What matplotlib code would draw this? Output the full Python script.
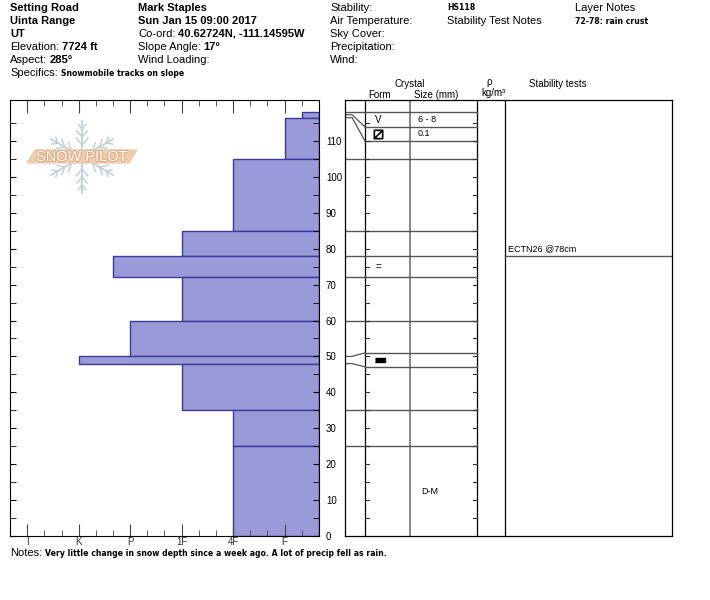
import matplotlib
matplotlib.use('Agg')
import matplotlib.pyplot as plt
import matplotlib.patheffects as pe
from matplotlib.path import Path
import numpy as np

W, H = 710, 600
DEPTH_MAX = 121.4

# hardness profile, cm above ground
layer_top = [118, 116.5, 105, 85, 78, 72, 60, 50, 48, 35, 25]
layer_bottom = [116.5, 105, 85, 78, 72, 60, 50, 48, 35, 25, 0]
layer_hardness = ['F-', 'F', '4F', '1F', 'P+', '1F', 'P', 'K', '1F', '4F', '4F']

hardness_scale = {'F-': 1, 'F': 2, '4F': 5, '1F': 8, 'P': 11, 'P+': 12, 'K': 14, 'I': 17}
hardness_labels = ['I', 'K', 'P', '1F', '4F', 'F']

# crystal table
table_lines = [118, 105, 85, 78, 72, 60, 35, 25]
# thin layers get a wider display row, joined by connector lines
connector_from = [117.3, 116.5, 50, 48]
connector_to = [113.9, 110, 51, 47.1]
crystal_rows = [(118, 113.9), (113.9, 110), (78, 72), (51, 47.1)]
crystal_form = ['SH', 'FCxr', 'MFcr', 'IF']
crystal_size = ['6 - 8', '0.1', '', '']
moisture_text = 'D-M'
moisture_depth = 12.5

stability_depth = 78
stability_text = 'ECTN26 @78cm'

fill = '#9a9ad8'
edge = '#3a3a9a'

plt.rcParams['font.family'] = ['Liberation Sans', 'DejaVu Sans']

fig = plt.figure(figsize=(W / 100, H / 100), dpi=100)
renderer = fig.canvas.get_renderer()


def fx(px):
    return px / W


def fy(py):
    return 1 - py / H


def mixed(x, y, parts):
    # draw pieces of text one after another on one line
    for s, kw in parts:
        t = fig.text(fx(x), fy(y), s, va='center', ha='left', **kw)
        x += t.get_window_extent(renderer).width + 3


normal = dict(fontsize=8)
bold = dict(fontsize=8, fontweight='bold')
small = dict(fontsize=5.6, fontweight='bold', family='DejaVu Sans')

# header
row_y = [8, 21, 34, 47, 60, 73]
mixed(10, row_y[0], [('Setting Road', bold)])
mixed(10, row_y[1], [('Uinta Range', bold)])
mixed(10, row_y[2], [('UT', bold)])
mixed(10, row_y[3], [('Elevation:', normal), ('7724 ft', bold)])
mixed(10, row_y[4], [('Aspect:', normal), ('285°', bold)])
mixed(10, row_y[5], [('Specifics:', normal), ('Snowmobile tracks on slope', small)])

mixed(138, row_y[0], [('Mark Staples', bold)])
mixed(138, row_y[1], [('Sun Jan 15 09:00 2017', bold)])
mixed(138, row_y[2], [('Co-ord:', normal), ('40.62724N, -111.14595W', bold)])
mixed(138, row_y[3], [('Slope Angle:', normal), ('17°', bold)])
mixed(138, row_y[4], [('Wind Loading:', normal)])

for i, lab in enumerate(['Stability:', 'Air Temperature:', 'Sky Cover:', 'Precipitation:', 'Wind:']):
    mixed(330, row_y[i], [(lab, normal)])

mixed(447, row_y[0], [('HS118', small)])
mixed(447, row_y[1], [('Stability Test Notes', normal)])
mixed(575, row_y[0], [('Layer Notes', normal)])
mixed(575, row_y[1], [('72-78: rain crust', small)])

mixed(10, 553, [('Notes:', normal),
                ('Very little change in snow depth since a week ago. A lot of precip fell as rain.', small)])

# hardness profile
ax = fig.add_axes([fx(10), fy(536), fx(309), 436 / H])
ax.set_xlim(18, 0)
ax.set_ylim(0, DEPTH_MAX)
for top, bot, h in zip(layer_top, layer_bottom, layer_hardness):
    ax.barh(bot, hardness_scale[h], height=top - bot, align='edge',
            color=fill, edgecolor=edge, linewidth=1)

ax.set_xticks([hardness_scale[h] for h in hardness_labels])
ax.set_xticklabels(hardness_labels)
ax.set_xticks(range(0, 19), minor=True)
ax.tick_params(axis='x', which='major', direction='in', length=9, top=True, bottom=True,
               labelsize=7, labelcolor='#333333', pad=1, color='#444444')
ax.tick_params(axis='x', which='minor', direction='in', length=4, top=True, bottom=True,
               color='#444444')
ax.set_yticks(range(0, 111, 10))
ax.set_yticks(range(5, 120, 10), minor=True)
ax.tick_params(axis='y', which='both', direction='in', length=4, left=True, right=True,
               labelleft=False, labelright=True, labelsize=7, pad=5)
for s in ax.spines.values():
    s.set_linewidth(0.8)

# snow pilot watermark
axl = fig.add_axes([fx(20), fy(196), fx(125), 76 / H])
axl.set_xlim(20, 145)
axl.set_ylim(196, 120)
axl.axis('off')
cx, cy, arm = 82, 157, 36
flake = '#c3d0dc'
for ang in [90, 30, 150]:
    a = np.radians(ang)
    dx, dy = np.cos(a), np.sin(a)
    axl.plot([cx - arm * dx, cx + arm * dx], [cy - arm * dy, cy + arm * dy], color=flake, lw=1.3)
    for sgn in [1, -1]:
        for dist, blen in [(12, 9), (20, 8), (28, 6)]:
            px, py = cx + sgn * dist * dx, cy + sgn * dist * dy
            for side in [1, -1]:
                b = a + side * np.radians(40)
                axl.plot([px, px + sgn * blen * np.cos(b)], [py, py + sgn * blen * np.sin(b)],
                         color=flake, lw=1.1)
band = plt.Polygon([(27, 163), (35, 150), (137, 150), (129, 163)], closed=True,
                   color='#edcdb0', zorder=3)
axl.add_patch(band)
axl.text(82, 157, 'SNOW PILOT', ha='center', va='center', fontsize=10.5, color='white', zorder=4,
         path_effects=[pe.withStroke(linewidth=1.5, foreground='#e2aa80')])

# crystal / stability table
cols = [0, 20, 65, 132, 160, 327]
axt = fig.add_axes([fx(345), fy(536), fx(327), 436 / H])
axt.set_xlim(cols[0], cols[-1])
axt.set_ylim(0, DEPTH_MAX)
axt.set_xticks([])
axt.set_yticks([])
for s in axt.spines.values():
    s.set_linewidth(0.9)
for c in [cols[1], cols[3], cols[4]]:
    axt.axvline(c, color='black', lw=0.9)
axt.axvline(cols[2], color='#888888', lw=1.4)

for d in table_lines:
    axt.plot([cols[0], cols[3]], [d, d], color='#555555', lw=1)
for d0, d1 in zip(connector_from, connector_to):
    axt.plot([cols[0], cols[0] + 7, cols[1]], [d0, d0, d1], color='#555555', lw=0.9)
    axt.plot([cols[1], cols[3]], [d1, d1], color='#555555', lw=1)
for d in range(5, 120, 5):
    axt.plot([cols[1], cols[1] + 4], [d, d], color='#333333', lw=0.8)
    axt.plot([cols[3] - 4, cols[3]], [d, d], color='#333333', lw=0.8)
axt.plot([cols[4], cols[5]], [stability_depth, stability_depth], color='#555555', lw=1)

facet_marker = Path([(-1, -1), (1, -1), (1, 1), (-1, 1), (-1, -1), (-1, -1), (1, 1)],
                    [Path.MOVETO, Path.LINETO, Path.LINETO, Path.LINETO, Path.CLOSEPOLY,
                     Path.MOVETO, Path.LINETO])
bar_marker = [(-1, -0.45), (1, -0.45), (1, 0.45), (-1, 0.45)]
for (top, bot), form, size in zip(crystal_rows, crystal_form, crystal_size):
    mid = (top + bot) / 2
    if form == 'SH':
        axt.text(33, mid, 'V', ha='center', va='center', fontsize=7)
    elif form == 'FCxr':
        axt.plot([33], [mid], marker=facet_marker, ms=6, mew=1.2, mfc='none', mec='black')
    elif form == 'MFcr':
        axt.text(33, mid, '=', ha='center', va='center', fontsize=7)
    elif form == 'IF':
        axt.plot([35], [mid], marker=bar_marker, ms=7, color='black')
    if size:
        axt.text(73, mid, size, ha='left', va='center', fontsize=6.5)
axt.text(76, moisture_depth, moisture_text, ha='left', va='center', fontsize=6.5)
axt.text(163, stability_depth + 0.6, stability_text, ha='left', va='bottom', fontsize=6.5)

# table headers
hdr = dict(fontsize=7, ha='center', va='center')
fig.text(fx(410), fy(84), 'Crystal', **hdr)
fig.text(fx(380), fy(95), 'Form', **hdr)
fig.text(fx(436), fy(95), 'Size (mm)', **hdr)
fig.text(fx(489), fy(82), 'ρ', **hdr)
fig.text(fx(493), fy(93), 'kg/m³', **hdr)
fig.text(fx(558), fy(84), 'Stability tests', **hdr)

fig.savefig('out.png', dpi=100)
